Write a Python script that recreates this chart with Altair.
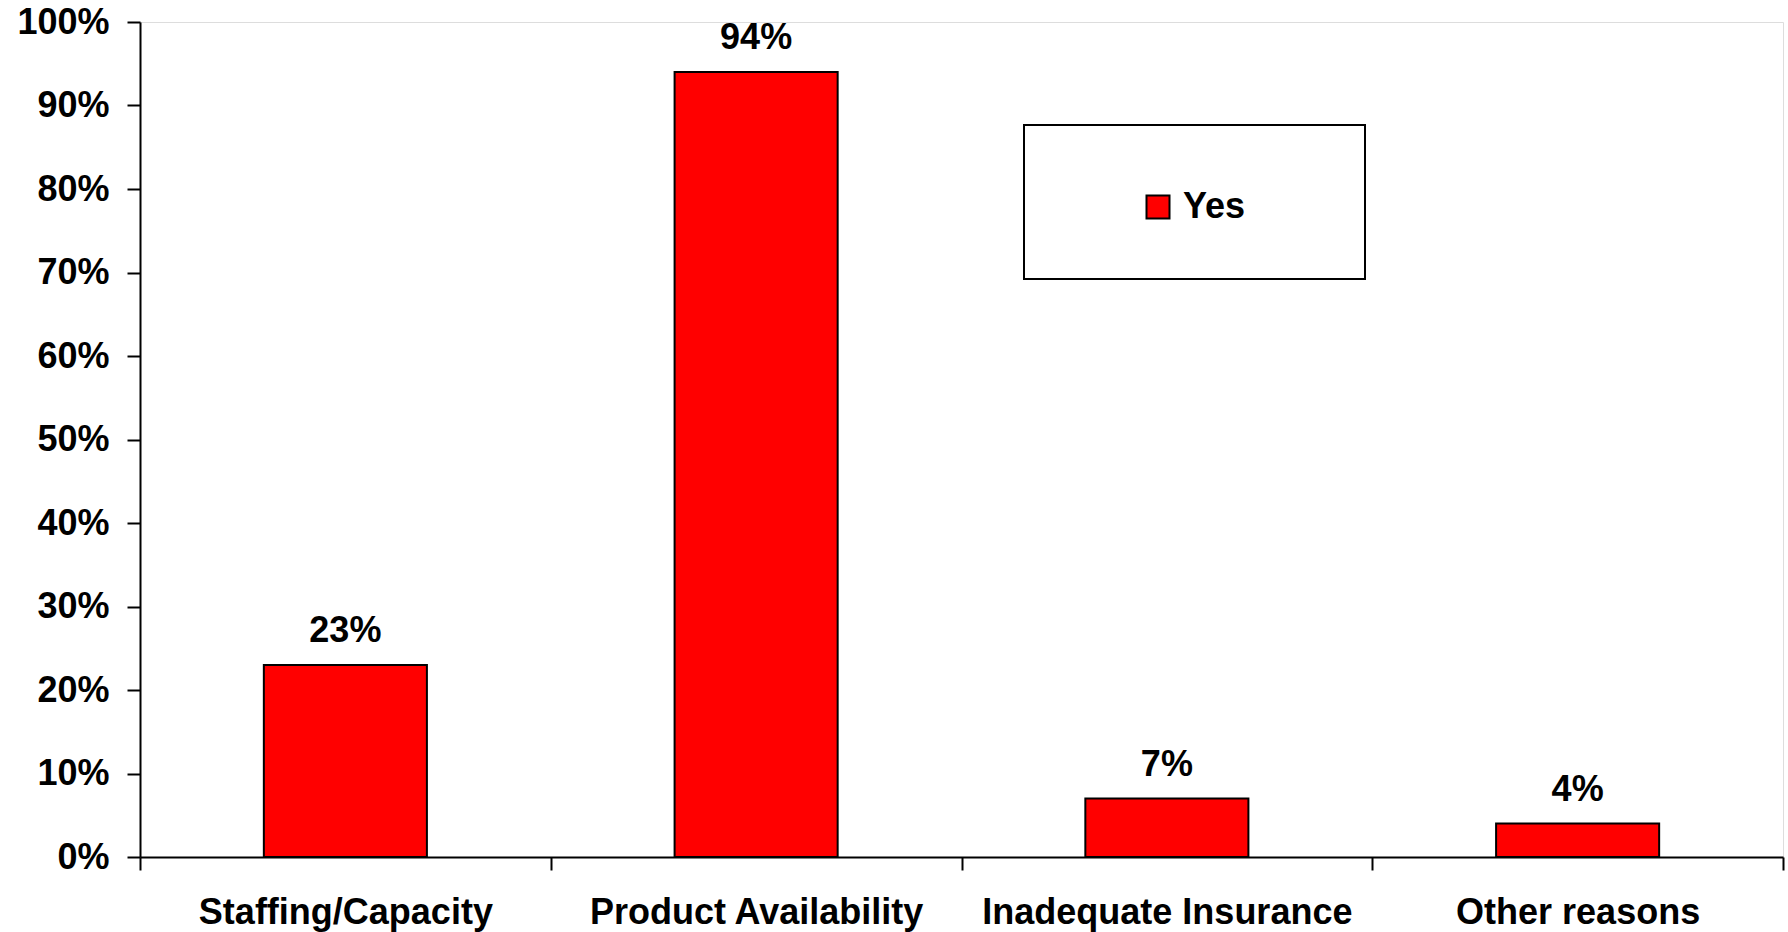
import altair as alt
import pandas as pd

# Survey results: share of respondents answering "Yes" per reason
categories = ["Staffing/Capacity", "Product Availability", "Inadequate Insurance", "Other reasons"]
values = [0.23, 0.94, 0.07, 0.04]
series_name = ["Yes"] * len(categories)
y_ticks = [0, 0.1, 0.2, 0.3, 0.4, 0.5, 0.6, 0.7, 0.8, 0.9, 1.0]

df = pd.DataFrame({"reason": categories, "share": values, "series": series_name})

FONT = "Liberation Sans"
FS = 36
PLOT_W, PLOT_H = 1643, 835

x_enc = alt.X(
    "reason:N",
    sort=categories,
    scale=alt.Scale(paddingInner=0, paddingOuter=0),
    axis=alt.Axis(
        title=None,
        labelAngle=0,
        tickBand="extent",
        tickSize=13,
        tickWidth=2,
        tickColor="black",
        domainColor="black",
        domainWidth=2,
        labelFont=FONT,
        labelFontSize=FS,
        labelFontWeight="bold",
        labelColor="black",
        labelPadding=25,
        labelLimit=0,
    ),
)
y_enc = alt.Y(
    "share:Q",
    scale=alt.Scale(domain=[0, 1], nice=False),
    axis=alt.Axis(
        title=None,
        values=y_ticks,
        format=".0%",
        grid=False,
        tickSize=13,
        tickWidth=2,
        tickColor="black",
        domainColor="black",
        domainWidth=2,
        labelFont=FONT,
        labelFontSize=FS,
        labelFontWeight="bold",
        labelColor="black",
        labelPadding=18,
    ),
)

base = alt.Chart(df)

bars = base.mark_bar(
    width=alt.RelativeBandSize(0.397), stroke="black", strokeWidth=2
).encode(
    x=x_enc,
    y=y_enc,
    color=alt.Color(
        "series:N",
        scale=alt.Scale(domain=["Yes"], range=["#ff0000"]),
        legend=alt.Legend(
            title=None,
            orient="none",
            legendX=1000,
            legendY=167,
            symbolType="square",
            symbolSize=529,
            symbolStrokeColor="black",
            symbolStrokeWidth=2,
            symbolOpacity=1,
            labelFont=FONT,
            labelFontSize=FS,
            labelFontWeight="bold",
            labelColor="black",
            labelOffset=7,
            padding=0,
        ),
    ),
)

labels = base.mark_text(
    baseline="alphabetic", dy=-23, font=FONT, fontSize=FS, fontWeight="bold", color="black"
).encode(
    x=alt.X("reason:N", sort=categories),
    y="share:Q",
    text=alt.Text("share:Q", format=".0%"),
)

# Frame around the legend
legend_frame = alt.Chart(alt.Data(values=[{}])).mark_rect(
    fill="white", stroke="black", strokeWidth=2
).encode(
    x=alt.value(884), x2=alt.value(1225), y=alt.value(103), y2=alt.value(257)
)

chart = (
    alt.layer(legend_frame, bars, labels)
    .properties(
        width=PLOT_W,
        height=PLOT_H,
        padding={"left": 140, "top": 22, "right": 5, "bottom": 75},
        autosize="none",
    )
    .configure_view(stroke=None)
    .configure(background="white")
)

chart.save("out.html", embed_options={"renderer": "svg", "actions": False})
